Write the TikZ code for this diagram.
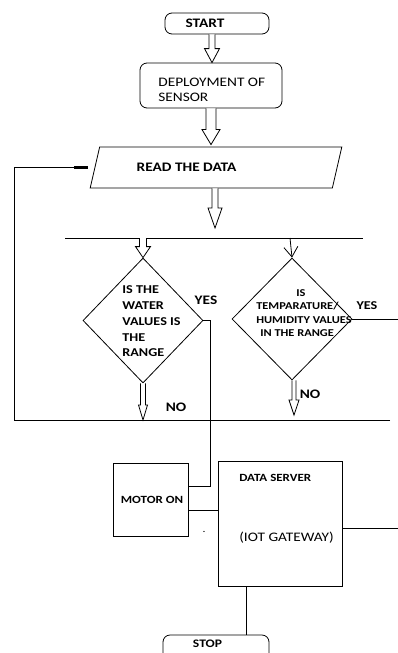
\documentclass[tikz,border=0pt]{standalone}
\usepackage{fontspec}
\setmainfont{Carlito}[FakeStretch=1.18]
\usetikzlibrary{shapes.geometric,calc,arrows.meta}
\tikzset{
  term/.style={draw,rounded corners=7pt},
  io/.style={draw,trapezium,trapezium left angle=66,trapezium right angle=114,
    trapezium stretches=true},
  decision/.style={draw,diamond,inner sep=0pt},
  block/.style={draw,rectangle,inner sep=0pt},
  txt/.style={font=\bfseries\fontsize{13}{15}\selectfont},
  small/.style={font=\bfseries\fontsize{11}{13}\selectfont},
}
% hollow block arrow going down: stem half, head half, head length, from, to
\newcommand{\fatarrow}[5]{%
  \draw[fill=white] let \p1=(#4), \p2=(#5) in
    (\x1-#1,\y1) -- (\x1-#1,\y2+#3) -- (\x1-#2,\y2+#3) -- (\x1,\y2)
    -- (\x1+#2,\y2+#3) -- (\x1+#1,\y2+#3) -- (\x1+#1,\y1);}

\begin{document}
\begin{tikzpicture}[x=1pt,y=-1pt,line width=0.8pt]
  \useasboundingbox (0,0) rectangle (398,653);
  \clip (0,0) rectangle (398,653);

  \node[term,minimum width=104pt,minimum height=21pt,
    label={[txt,xshift=-12pt]center:START}] (start) at (217,23.5) {};
  \node[term,minimum width=142pt,minimum height=45pt,
    label={[font=\fontsize{13}{15}\selectfont,anchor=west,align=left,xshift=15pt,yshift=-4pt]west:DEPLOYMENT OF\\SENSOR}] (deploy) at (211,85.5) {};
  \node[io,txt,minimum width=252pt,minimum height=41pt] (read) at (216,167.5) {READ THE DATA\hspace*{59pt}};

  \coordinate (barA) at (65,238);
  \coordinate (barB) at (363,238);
  \coordinate (barL) at (14,420);
  \coordinate (barR) at (390,420);

  \node[decision,minimum width=120pt,minimum height=125pt] (water) at (143,320.5) {};
  \node[font=\bfseries\fontsize{12}{15.7}\selectfont,align=left,inner sep=0pt] (watertxt) at (151.5,321.5)
    {IS THE\\WATER\\VALUES IS\\THE\\RANGE};
  \node[decision,minimum width=120pt,minimum height=122pt] (temp) at (292,319) {};
  \node[font=\bfseries\fontsize{10.5}{13.3}\selectfont,align=left,inner sep=0pt] (temptxt) at (304,313)
    {\hspace*{40pt}IS\\TEMPARATURE/\\HUMIDITY VALUES\\\hspace*{4pt}IN THE RANGE};

  \node[block,small,minimum width=75pt,minimum height=73pt] (motor) at (150.5,499.5) {\hspace*{3pt}MOTOR ON};
  \node[block,minimum width=124pt,minimum height=125pt,
    label={[small,anchor=west,xshift=18pt,yshift=-17pt]north west:DATA SERVER},
    label={[font=\fontsize{13}{15}\selectfont,anchor=west,xshift=18pt,yshift=-14.5pt]west:(IOT GATEWAY)}] (server) at (280,523.5) {};
  \node[term,minimum width=106pt,minimum height=30pt,
    label={[font=\bfseries\fontsize{11.5}{13}\selectfont,xshift=-8.5pt,yshift=6pt]center:STOP}] (stop) at (216,650) {};

  \node[txt] (yesw) at (206,300) {YES};
  \node[font=\bfseries\fontsize{12}{14}\selectfont] (yest) at (367,306) {YES};
  \node[txt] (now) at (176,407) {NO};
  \node[txt] (not) at (310,394) {NO};
  \node[inner sep=0pt] (dot) at (204,532) {.};

  % block arrows
  \fatarrow{3pt}{7.5pt}{14pt}{[xshift=-5pt]start.south}{deploy.north}
  \fatarrow{5pt}{9pt}{15pt}{deploy.south}{[yshift=2pt]read.north}
  \fatarrow{3pt}{7pt}{20pt}{[xshift=-1pt]read.south}{[yshift=10pt]read.south |- barA}
  \draw (barA) -- (barB);
  \fatarrow{3.5pt}{7.5pt}{11pt}{water.north |- barA}{water.north}
  \draw[-{Straight Barb[length=10pt,width=14pt]}] ([xshift=-2pt]temp.north |- barA) -- (temp.north);
  \fatarrow{2.5pt}{4.5pt}{15pt}{water.south}{water.south |- barL}
  \fatarrow{2pt}{5pt}{15pt}{[xshift=2pt]temp.south}{[yshift=5pt,xshift=2pt]temp.south |- barL}

  % loop back to reading
  \draw[-{Rectangle[length=14pt,width=2.6pt]},shorten >=7pt] (barR) -- (barL) |- (read.west);

  % yes branches
  \coordinate (yesdrop) at (210,486);
  \draw (water.east) -| (yesdrop) -- (yesdrop -| motor.east);
  \coordinate (tempout) at (398,319);
  \draw (temp.east) -- (tempout);
  \draw ([yshift=-10.5pt]motor.east) -- ([yshift=-10.5pt]motor.east -| server.west);
  \coordinate (gwout) at (398,528);
  \draw ([yshift=-4.5pt]server.east) -- (gwout);
  \draw ([xshift=-34pt]server.south) -- ([xshift=-34pt]server.south |- stop.north);
\end{tikzpicture}
\end{document}
